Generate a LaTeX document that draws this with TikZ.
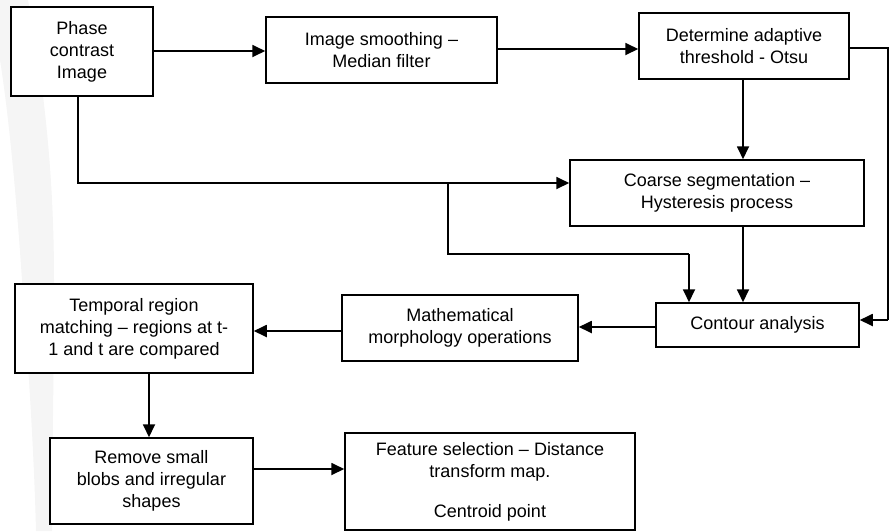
\documentclass[tikz,border=0pt]{standalone}
\usepackage{fontspec}
\setmainfont{Liberation Sans}
\usetikzlibrary{arrows.meta}
\begin{document}
\begin{tikzpicture}[x=1pt,y=-1pt,
  box/.style={draw=black,line width=1.5pt,fill=white,inner sep=0pt,align=center,
    font=\fontsize{18}{22}\selectfont},
  conn/.style={line width=1.8pt,-{Triangle[length=13pt,width=12pt]}},
  plain/.style={line width=1.8pt}]
\useasboundingbox (0,0) rectangle (896,531);
% faint background swoosh
\fill[black!4] (0,0) -- (28,0) .. controls (45,90) and (54,180) .. (54,280)
  .. controls (54,380) and (52,460) .. (52,531) -- (36,531)
  .. controls (34,450) and (28,360) .. (22,280)
  .. controls (16,190) and (8,110) .. (0,60) -- cycle;
% boxes
\node[box,minimum width=142pt,minimum height=89pt] (phase) at (82,51.5) {Phase\\contrast\\Image};
\node[box,minimum width=231pt,minimum height=66pt] (smooth) at (381.5,50) {Image smoothing –\\Median filter};
\node[box,minimum width=210pt,minimum height=66pt] (otsu) at (744,46) {Determine adaptive\\threshold - Otsu};
\node[box,minimum width=294pt,minimum height=66pt] (coarse) at (717,193) {Coarse segmentation –\\Hysteresis process};
\node[box,minimum width=203pt,minimum height=44pt] (contour) at (757.5,325) {Contour analysis};
\node[box,minimum width=236pt,minimum height=66pt] (math) at (460,328) {Mathematical\\morphology operations};
\node[box,minimum width=238pt,minimum height=89pt] (temporal) at (134,328.5) {Temporal region\\matching – regions at t-\\1 and t are compared};
\node[box,minimum width=203pt,minimum height=86pt] (remove) at (151.5,481) {Remove small\\blobs and irregular\\shapes};
\node[box,minimum width=290pt,minimum height=97pt] (feature) at (490,481.5)
  {\fontsize{18}{19}\selectfont Feature selection – Distance\\transform map.\\[18pt]Centroid point};
% coordinates
\coordinate (p1) at (78,96);
\coordinate (p2) at (78,183);
\coordinate (b1) at (448,183);
\coordinate (b2) at (448,254);
\coordinate (b3) at (689,254);
\coordinate (r1) at (849,48);
\coordinate (r2) at (888,48);
\coordinate (r3) at (888,320);
% connectors
\draw[conn] (phase.east |- 0,51) -- (smooth.west |- 0,51);
\draw[conn] (smooth.east |- 0,49) -- (otsu.west |- 0,49);
\draw[conn] (otsu.south -| 743,0) -- (coarse.north -| 743,0);
\draw[plain] (r1) -- (r2) -- (r3);
\draw[conn] (r3) -- (contour.east |- r3);
\draw[conn] (p1) -- (p2) -- (coarse.west |- p2);
\draw[plain] (b1) -- (b2) -- (b3);
\draw[conn] (b3) -- (contour.north -| b3);
\draw[conn] (coarse.south -| 743,0) -- (contour.north -| 743,0);
\draw[conn] (contour.west |- 0,327) -- (math.east |- 0,327);
\draw[conn] (math.west |- 0,331) -- (temporal.east |- 0,331);
\draw[conn] (temporal.south -| 149,0) -- (remove.north -| 149,0);
\draw[conn] (remove.east |- 0,469) -- (feature.west |- 0,469);
\end{tikzpicture}
\end{document}
